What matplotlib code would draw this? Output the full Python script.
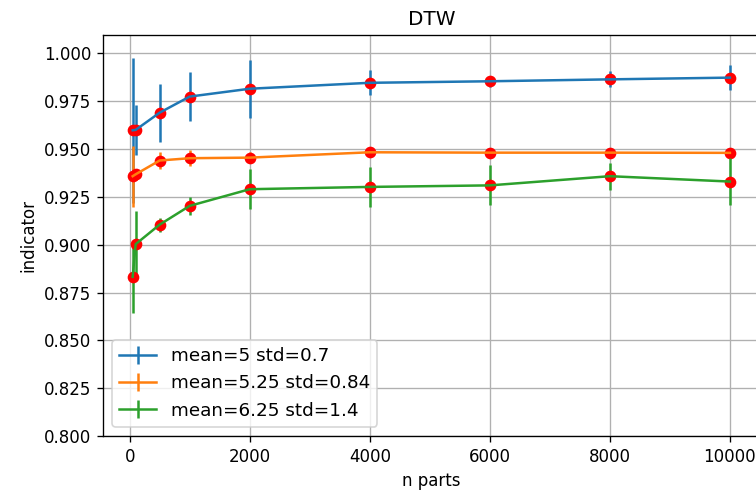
import numpy as np
import matplotlib.pyplot as plt

# number of parts the series were split into
n_parts = [50, 100, 500, 1000, 2000, 4000, 6000, 8000, 10000]

# DTW indicator (mean over runs) and its spread, one list per setting
labels = ["mean=5 std=0.7", "mean=5.25 std=0.84", "mean=6.25 std=1.4"]

ind_a = [0.9598, 0.9600, 0.9690, 0.9774, 0.9815, 0.9846, 0.9854, 0.9864, 0.9873]
err_a = [0.0380, 0.0130, 0.0152, 0.0127, 0.0152, 0.0065, 0.0030, 0.0042, 0.0067]

ind_b = [0.9358, 0.9368, 0.9440, 0.9452, 0.9455, 0.9483, 0.9481, 0.9481, 0.9480]
err_b = [0.0160, 0.0030, 0.0043, 0.0043, 0.0030, 0.0010, 0.0008, 0.0008, 0.0008]

ind_c = [0.8832, 0.9003, 0.9105, 0.9203, 0.9290, 0.9302, 0.9310, 0.9358, 0.9330]
err_c = [0.0190, 0.0174, 0.0037, 0.0048, 0.0104, 0.0103, 0.0104, 0.0070, 0.0122]


def main():
    fig = plt.figure(figsize=(6.3, 4.125), dpi=120)
    ax = fig.add_axes([0.136, 0.119, 0.869, 0.810])

    for y, e, lab in zip([ind_a, ind_b, ind_c], [err_a, err_b, err_c], labels):
        ax.errorbar(n_parts, y, yerr=e, label=lab)
        ax.plot(n_parts, y, "o", color="red", markersize=6)

    ax.set_ylim(0.8, 1.0095)
    ax.set_yticks(np.arange(0.8, 1.0001, 0.025))
    ax.grid(True)
    ax.set_title("DTW")
    ax.set_xlabel("n parts")
    ax.set_ylabel("indicator")
    ax.legend(loc="lower left", fontsize=11)

    fig.savefig("out.png", dpi=120)


if __name__ == "__main__":
    main()
